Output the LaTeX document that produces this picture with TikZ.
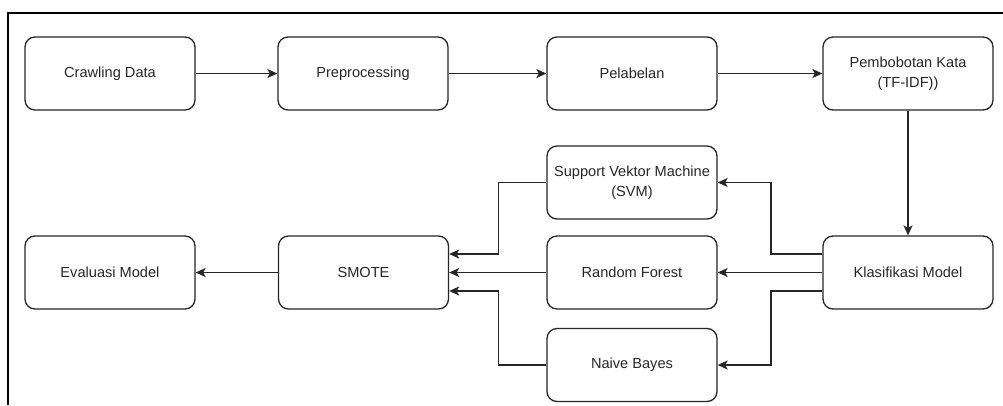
\documentclass[tikz,border=0pt]{standalone}
\usepackage{fontspec}
\setmainfont{Liberation Sans}
\usetikzlibrary{arrows.meta}
\definecolor{txt}{HTML}{262626}
\begin{document}
\begin{tikzpicture}[x=1pt,y=-1pt,
  box/.style={draw=black!85, line width=1.3pt, rounded corners=10pt,
    minimum width=170pt, minimum height=73pt, align=center,
    font=\fontsize{14.6}{19.5}\selectfont, text=txt, inner sep=0pt},
  conn/.style={draw=black!85, line width=1.3pt, -{Stealth[length=10pt,width=9pt,inset=2.5pt]}}]
\useasboundingbox (0,0) rectangle (1003,405);
\draw[line width=1.4pt] (8,405) -- (8,13) -- (1003,13);
\node[box] (crawl) at (110,73.5) {Crawling Data};
\node[box] (prep) at (363,73.5) {Preprocessing};
\node[box] (label) at (632,73.5) {Pelabelan};
\node[box] (tfidf) at (908,73.5) {Pembobotan Kata\\(TF-IDF))};
\node[box] (svm) at (632,182.5) {Support Vektor Machine\\(SVM)};
\node[box] (rf) at (632,272.5) {Random Forest};
\node[box] (nb) at (632,365) {Naive Bayes};
\node[box] (klas) at (908,272.5) {Klasifikasi Model};
\node[box] (smote) at (363.5,272.5) {SMOTE};
\node[box] (eval) at (110,272.5) {Evaluasi Model};
\draw[conn] (crawl) -- (prep);
\draw[conn] (prep) -- (label);
\draw[conn] (label) -- (tfidf);
\draw[conn] (tfidf) -- (klas);
\draw[conn] (klas.west |- 0,254) -| (771,182.5) -- (svm.east);
\draw[conn] (klas) -- (rf);
\draw[conn] (klas.west |- 0,291) -| (771,365) -- (nb.east);
\draw[conn] (svm.west) -| (498.5,254) -- (smote.east |- 0,254);
\draw[conn] (rf) -- (smote);
\draw[conn] (nb.west) -| (498.5,291) -- (smote.east |- 0,291);
\draw[conn] (smote) -- (eval);
\end{tikzpicture}
\end{document}
